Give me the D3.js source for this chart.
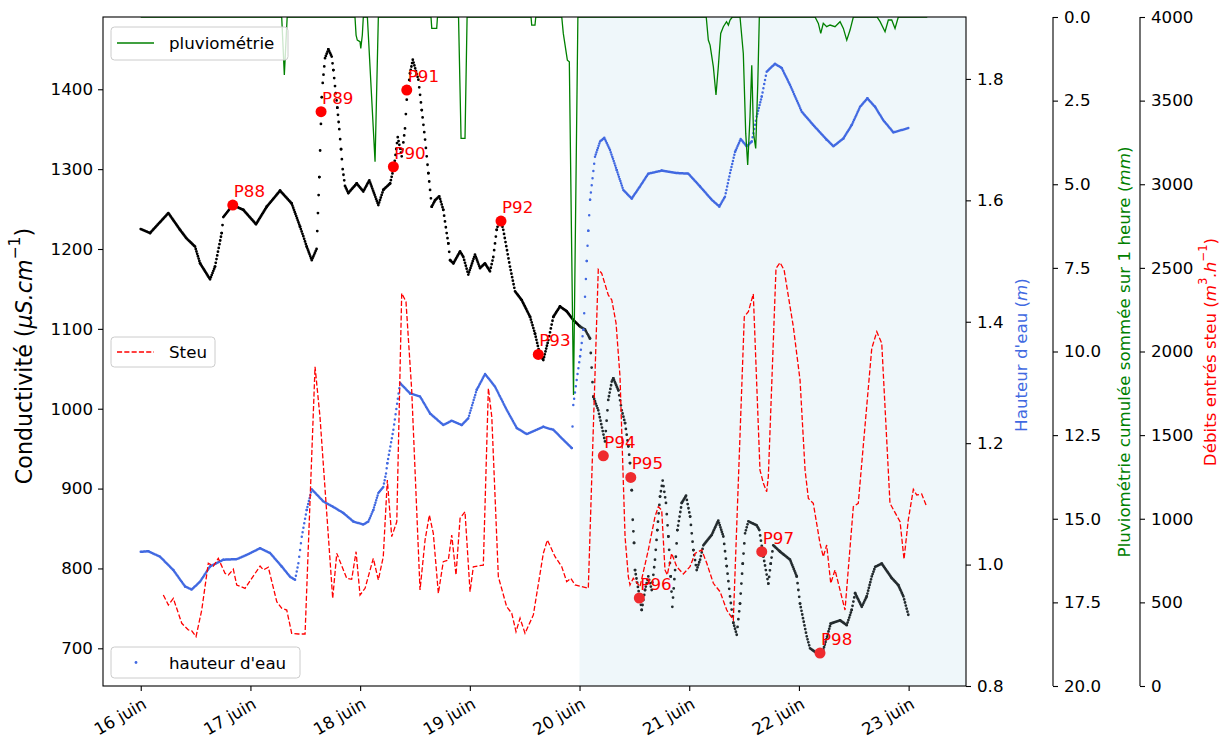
<!DOCTYPE html>
<html><head><meta charset="utf-8">
<script src="https://cdn.jsdelivr.net/npm/d3@7"></script>
<style>body{margin:0;background:#fff}svg{display:block}text{font-family:"DejaVu Sans",sans-serif}</style>
</head><body><svg id="c" width="1227" height="744"></svg>
<script>
// ---- data (days since 16 juin 00:00) ----
const dayTicks = [0,1,2,3,4,5,6,7];
const dayLabels = ["16 juin","17 juin","18 juin","19 juin","20 juin","21 juin","22 juin","23 juin"];
const condTicks = [700,800,900,1000,1100,1200,1300,1400];
const hautTicks = [0.8,1.0,1.2,1.4,1.6,1.8];
const pluvioTicks = [0,2.5,5,7.5,10,12.5,15,17.5,20];
const steuTicks = [0,500,1000,1500,2000,2500,3000,3500,4000];

const condDays = [0.00,0.085,0.252,0.358,0.419,0.495,0.541,0.632,0.677,0.738,0.753,0.839,0.935,1.051,1.149,1.270,1.376,1.452,1.482,1.513,1.559,1.603,1.628,1.650,1.659,1.680,1.710,1.741,1.756,1.771,1.792,1.810,1.826,1.841,1.862,1.892,1.969,2.029,2.084,2.166,2.211,2.273,2.309,2.343,2.379,2.409,2.425,2.455,2.480,2.531,2.562,2.592,2.622,2.653,2.683,2.722,2.758,2.789,2.804,2.820,2.850,2.911,2.941,2.986,3.047,3.093,3.138,3.184,3.214,3.245,3.275,3.305,3.366,3.412,3.473,3.549,3.594,3.640,3.670,3.716,3.761,3.822,3.883,3.943,4.004,4.050,4.095,4.126,4.171,4.232,4.262,4.294,4.308,4.354,4.385,4.415,4.445,4.460,4.476,4.485,4.497,4.506,4.552,4.567,4.597,4.627,4.658,4.688,4.709,4.734,4.758,4.788,4.810,4.831,4.846,4.871,4.892,4.932,4.971,5.008,5.038,5.068,5.099,5.129,5.205,5.265,5.311,5.342,5.372,5.402,5.433,5.463,5.488,5.509,5.539,5.615,5.639,5.676,5.721,5.743,5.766,5.828,5.919,5.980,6.010,6.071,6.101,6.162,6.222,6.290,6.375,6.436,6.481,6.512,6.573,6.618,6.664,6.695,6.755,6.846,6.906,6.952,6.997];
const condValues = [1225,1220,1245,1224,1213,1203,1182,1162,1178,1220,1240,1255,1249,1231,1253,1273,1257,1228,1216,1203,1186,1200,1290,1390,1408,1439,1450,1441,1424,1404,1377,1350,1325,1300,1279,1270,1282,1272,1286,1255,1274,1282,1303,1340,1316,1351,1387,1420,1437,1412,1374,1337,1295,1253,1261,1266,1249,1220,1207,1186,1182,1197,1190,1168,1193,1176,1182,1172,1190,1224,1239,1224,1178,1147,1136,1115,1094,1067,1061,1086,1115,1128,1122,1111,1103,1099,1088,1015,998,959,1011,1034,1038,1023,998,982,953,932,898,861,832,798,761,748,773,790,773,811,848,890,910,882,840,790,752,798,848,882,891,865,823,798,811,829,842,860,840,803,765,732,717,756,806,844,859,854,848,815,781,806,829,821,811,790,756,715,700,694,698,731,735,729,748,769,752,765,790,802,806,788,779,765,742];

const hautDays = [0.000,0.069,0.176,0.297,0.404,0.465,0.541,0.632,0.753,0.875,0.966,1.088,1.179,1.285,1.361,1.407,1.437,1.468,1.513,1.559,1.665,1.756,1.847,1.938,2.029,2.075,2.120,2.166,2.211,2.236,2.248,2.303,2.364,2.455,2.546,2.637,2.758,2.835,2.926,2.986,3.063,3.139,3.230,3.336,3.428,3.519,3.670,3.761,3.929,3.943,3.974,4.005,4.035,4.050,4.066,4.080,4.096,4.141,4.187,4.226,4.278,4.339,4.399,4.476,4.551,4.627,4.749,4.886,4.992,5.098,5.205,5.274,5.326,5.372,5.418,5.469,5.524,5.570,5.615,5.661,5.706,5.782,5.843,5.919,6.026,6.131,6.253,6.314,6.405,6.481,6.557,6.624,6.694,6.769,6.861,6.997];
const hautValues = [1.021,1.022,1.013,0.991,0.964,0.959,0.972,0.997,1.008,1.009,1.016,1.027,1.019,0.997,0.980,0.975,1.002,1.046,1.090,1.124,1.104,1.095,1.085,1.071,1.066,1.071,1.090,1.118,1.128,1.150,1.167,1.222,1.299,1.282,1.277,1.249,1.230,1.237,1.230,1.241,1.288,1.314,1.293,1.255,1.225,1.215,1.227,1.222,1.192,1.263,1.304,1.343,1.387,1.441,1.500,1.550,1.601,1.672,1.697,1.703,1.683,1.650,1.617,1.603,1.623,1.644,1.649,1.645,1.644,1.623,1.601,1.590,1.606,1.645,1.680,1.701,1.689,1.697,1.738,1.771,1.812,1.825,1.818,1.790,1.746,1.724,1.700,1.689,1.702,1.724,1.754,1.768,1.754,1.732,1.712,1.719];

const steuDays = [0.206,0.252,0.297,0.374,0.434,0.465,0.504,0.556,0.616,0.662,0.707,0.768,0.799,0.844,0.875,0.951,1.012,1.088,1.118,1.163,1.240,1.285,1.331,1.376,1.437,1.498,1.589,1.619,1.634,1.750,1.787,1.878,1.923,1.963,1.999,2.045,2.120,2.166,2.211,2.248,2.288,2.334,2.379,2.418,2.470,2.546,2.592,2.631,2.667,2.713,2.758,2.804,2.835,2.874,2.911,2.956,3.002,3.032,3.123,3.169,3.200,3.260,3.336,3.382,3.421,3.458,3.503,3.579,3.670,3.707,3.777,3.838,3.883,3.920,3.959,4.080,4.171,4.202,4.262,4.294,4.333,4.369,4.415,4.445,4.460,4.490,4.551,4.627,4.688,4.718,4.749,4.779,4.800,4.840,4.886,4.946,5.007,5.053,5.114,5.160,5.220,5.281,5.342,5.402,5.502,5.539,5.584,5.645,5.676,5.706,5.721,5.791,5.828,5.865,5.949,6.010,6.056,6.086,6.131,6.192,6.222,6.253,6.290,6.329,6.420,6.496,6.541,6.664,6.710,6.755,6.830,6.922,6.958,6.997,7.043,7.074,7.119,7.165];
const steuValues = [544,484,524,375,335,330,295,454,734,717,763,674,664,698,604,584,644,717,694,710,504,465,454,315,311,311,1909,1710,1610,524,793,644,638,803,544,584,763,634,773,1232,893,982,2348,2298,1770,574,873,1022,913,554,743,753,903,664,1003,1042,564,713,723,1780,1610,653,474,435,325,405,315,425,793,873,773,713,624,644,604,584,2491,2468,2338,2308,2169,1849,893,653,604,644,594,813,1012,1072,1052,694,664,793,713,670,713,793,813,734,614,564,454,395,2208,2238,2344,1291,1212,1162,1251,2497,2531,2487,2148,1830,1291,1122,1092,853,773,843,614,694,454,1072,1092,2019,2118,2049,1092,982,758,993,1176,1142,1148,1072];

const pluvioDays = [0.00,1.285,1.309,1.335,1.953,1.963,1.974,1.999,2.006,2.020,2.029,2.066,2.136,2.166,2.646,2.653,2.698,2.705,2.897,2.920,2.956,2.975,3.558,3.564,3.594,3.601,3.838,3.852,3.889,3.907,3.945,3.985,5.155,5.174,5.190,5.220,5.244,5.265,5.287,5.311,5.340,5.357,5.372,5.393,5.463,5.493,5.515,5.533,5.554,5.570,5.586,5.606,5.625,5.639,6.147,6.177,6.199,6.222,6.253,6.284,6.329,6.375,6.405,6.436,6.466,6.496,6.712,6.740,6.785,6.815,6.846,6.876,6.906,7.17];
const pluvioValues = [0,0,1.73,0,0,0.54,0.69,0.74,0.94,0.54,0,0,4.33,0,0,0.34,0.34,0,0,3.63,3.63,0,0,0.24,0.24,0,0,0.49,1.29,1.34,11.3,0,0,0.69,0.84,1.49,2.33,1.49,0.49,0.29,0.14,0.24,0.09,0,0,1.09,3.48,4.42,2.98,1.44,3.48,3.93,1.98,0,0,0.19,0.49,0.19,0.29,0.24,0.29,0.14,0.34,0.69,0.39,0,0,0.14,0.44,0.09,0.09,0.34,0,0];

const sampleNames = ["P88","P89","P90","P91","P92","P93","P94","P95","P96","P97","P98"];
const sampleDays = [0.839,1.644,2.303,2.425,3.284,3.624,4.217,4.467,4.545,5.661,6.192];
const sampleValues = [1255,1372,1303,1399,1235,1068,941,914,763,821,694];

const spanStart = 4.0;

// ---- layout ----
const L = 103, R = 966, T = 17, B = 686;
const svg = d3.select("#c");
const x = d3.scaleLinear().domain([-0.344, 7.523]).range([L, R]);
const yC = d3.scaleLinear().domain([652.8, 1490.5]).range([B, T]);
const yH = d3.scaleLinear().domain([0.8, 1.902]).range([B, T]);
const yP = d3.scaleLinear().domain([0, 20]).range([T, B]);
const yS = d3.scaleLinear().domain([0, 4000]).range([B, T]);
const FS = 16.7;

svg.append("defs").append("clipPath").attr("id","clip")
  .append("rect").attr("x",L).attr("y",T).attr("width",R-L).attr("height",B-T);
const plot = svg.append("g").attr("clip-path","url(#clip)");

// dotted series: dots evenly spaced in time along each segment
function timeDots(g, days, vals, ys, step, r, color){
  const line = d3.line().x(d=>x(d[0])).y(d=>ys(d[1]));
  for(let i=0;i<days.length-1;i++){
    const a=[days[i],vals[i]], b=[days[i+1],vals[i+1]];
    const len = Math.hypot(x(b[0])-x(a[0]), ys(b[1])-ys(a[1]));
    if(len<0.01) continue;
    const n = Math.max(1, Math.round((b[0]-a[0])/step));
    g.append("path").attr("d", line([a,b])).attr("fill","none")
      .attr("stroke", color).attr("stroke-width", 2*r)
      .attr("stroke-linecap","round")
      .attr("stroke-dasharray", `0 ${len/n}`);
  }
}

// ax1: conductivity
const gC = plot.append("g");
timeDots(gC, condDays, condValues, yC, 0.007, 1.4, "#000");
const pts = d3.range(sampleNames.length);
plot.append("g").selectAll("circle").data(pts).join("circle")
  .attr("cx", i=>x(sampleDays[i])).attr("cy", i=>yC(sampleValues[i])).attr("r",5.5).attr("fill","#ff0000");
// shaded span (drawn over ax1 content, alpha)
plot.append("rect").attr("x", x(spanStart)).attr("y", T).attr("width", R-x(spanStart)).attr("height", B-T)
  .attr("fill","#add8e6").attr("opacity",0.2);
plot.append("g").selectAll("text").data(pts).join("text")
  .attr("x", i=>x(sampleDays[i])+1).attr("y", i=>yC(sampleValues[i])-8)
  .attr("font-size",FS).attr("fill","#ff0000").text(i=>sampleNames[i]);

// ax2: hauteur
const gH = plot.append("g");
timeDots(gH, hautDays, hautValues, yH, 0.007, 1.25, "#4169e1");

function legendBox(x0,y0,w,h){
  svg.append("rect").attr("x",x0).attr("y",y0).attr("width",w).attr("height",h).attr("rx",3.5)
    .attr("fill","#fff").attr("fill-opacity",0.8).attr("stroke","#cccccc").attr("stroke-width",1);
}
// legend hauteur
legendBox(111,647,189,31);
svg.append("circle").attr("cx",136).attr("cy",662.5).attr("r",1.4).attr("fill","#4169e1");
svg.append("text").attr("x",169).attr("y",662.5).attr("dominant-baseline","central").attr("font-size",FS).text("hauteur d'eau");

// ax3: pluvio
const pl = d3.line().x((d,i)=>x(pluvioDays[i])).y((d,i)=>yP(pluvioValues[i]));
plot.append("path").attr("d", pl(pluvioDays)).attr("fill","none").attr("stroke","#008000").attr("stroke-width",1.3);
legendBox(111,27,177,33);
svg.append("line").attr("x1",117).attr("x2",154).attr("y1",43).attr("y2",43).attr("stroke","#008000").attr("stroke-width",1.3);
svg.append("text").attr("x",169).attr("y",43).attr("dominant-baseline","central").attr("font-size",FS).text("pluviométrie");

// ax4: steu
const sl = d3.line().x((d,i)=>x(steuDays[i])).y((d,i)=>yS(steuValues[i]));
plot.append("path").attr("d", sl(steuDays)).attr("fill","none").attr("stroke","#ff0000").attr("stroke-width",1.3)
  .attr("stroke-dasharray","5.1,2.2");
legendBox(111,337,104,30);
svg.append("line").attr("x1",117).attr("x2",154).attr("y1",352).attr("y2",352).attr("stroke","#ff0000").attr("stroke-width",1.3).attr("stroke-dasharray","5.1,2.2");
svg.append("text").attr("x",169).attr("y",352).attr("dominant-baseline","central").attr("font-size",FS).text("Steu");

// ---- axes ----
function styleAxis(g){
  g.selectAll(".domain").remove();
  g.selectAll(".tick line").attr("stroke","#000").attr("stroke-width",1.1);
  g.selectAll(".tick text").attr("font-size",FS).attr("fill","#000").attr("font-family","DejaVu Sans");
}
const fmt1 = d3.format(".1f");
const axL = svg.append("g").attr("transform",`translate(${L},0)`)
  .call(d3.axisLeft(yC).tickValues(condTicks).tickSize(5).tickPadding(5).tickFormat(d3.format("d")));
styleAxis(axL);
const axH = svg.append("g").attr("transform",`translate(${R},0)`)
  .call(d3.axisRight(yH).tickValues(hautTicks).tickSize(5).tickPadding(6).tickFormat(fmt1));
styleAxis(axH);
const PX = 1053, SX = 1140;
const axP = svg.append("g").attr("transform",`translate(${PX},0)`)
  .call(d3.axisRight(yP).tickValues(pluvioTicks).tickSize(5).tickPadding(6).tickFormat(fmt1));
styleAxis(axP);
svg.append("line").attr("x1",PX).attr("x2",PX).attr("y1",T).attr("y2",B).attr("stroke","#000").attr("stroke-width",1.1);
const axS = svg.append("g").attr("transform",`translate(${SX},0)`)
  .call(d3.axisRight(yS).tickValues(steuTicks).tickSize(5).tickPadding(6).tickFormat(d3.format("d")));
styleAxis(axS);
svg.append("line").attr("x1",SX).attr("x2",SX).attr("y1",T).attr("y2",B).attr("stroke","#000").attr("stroke-width",1.1);
const axB = svg.append("g").attr("transform",`translate(0,${B})`)
  .call(d3.axisBottom(x).tickValues(dayTicks).tickSize(5).tickFormat((d,i)=>dayLabels[i]));
styleAxis(axB);
axB.selectAll(".tick text").attr("text-anchor","end").attr("y",0).attr("dy","0.78em")
  .attr("transform","translate(0,10) rotate(-30)");
svg.append("rect").attr("x",L).attr("y",T).attr("width",R-L).attr("height",B-T)
  .attr("fill","none").attr("stroke","#000").attr("stroke-width",1.1);

// axis labels
const FL = 22.2;
const lab1 = svg.append("text").attr("transform","translate(24,356) rotate(-90)")
  .attr("text-anchor","middle").attr("dominant-baseline","central").attr("font-size",FL);
lab1.append("tspan").text("Conductivité (");
lab1.append("tspan").attr("font-style","italic").text("µS.cm");
lab1.append("tspan").attr("font-size",FL*0.7).attr("dy",-9).text("−1");
lab1.append("tspan").attr("dy",9).text(")");

const lab2 = svg.append("text").attr("transform","translate(1021,355) rotate(-90)")
  .attr("text-anchor","middle").attr("dominant-baseline","central").attr("font-size",FS).attr("fill","#4169e1");
lab2.append("tspan").text("Hauteur d'eau (");
lab2.append("tspan").attr("font-style","italic").text("m");
lab2.append("tspan").text(")");

const lab3 = svg.append("text").attr("transform","translate(1124,352) rotate(-90)")
  .attr("text-anchor","middle").attr("dominant-baseline","central").attr("font-size",FS).attr("fill","#008000");
lab3.append("tspan").text("Pluviométrie cumulée sommée sur 1 heure (");
lab3.append("tspan").attr("font-style","italic").text("mm");
lab3.append("tspan").text(")");

const lab4 = svg.append("text").attr("transform","translate(1210,352) rotate(-90)")
  .attr("text-anchor","middle").attr("dominant-baseline","central").attr("font-size",FS).attr("fill","#ff0000");
lab4.append("tspan").text("Débits entrés steu (");
lab4.append("tspan").attr("font-style","italic").text("m");
lab4.append("tspan").attr("font-size",FS*0.7).attr("dy",-7).text("3");
lab4.append("tspan").attr("dy",7).attr("font-style","italic").text(".h");
lab4.append("tspan").attr("font-size",FS*0.7).attr("dy",-7).text("−1");
lab4.append("tspan").attr("dy",7).text(")");
</script></body></html>
